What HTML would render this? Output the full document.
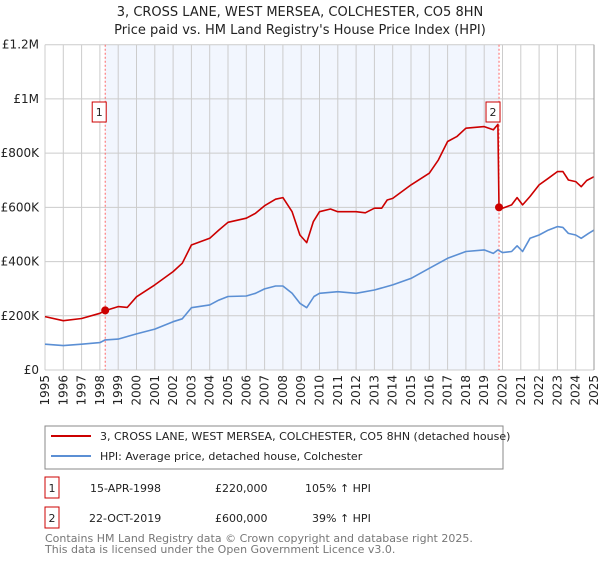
<!DOCTYPE html>
<html><head><meta charset="utf-8"><style>
body{margin:0;background:#fff;font-family:"Liberation Sans","DejaVu Sans",sans-serif;}
svg text{font-family:"DejaVu Sans","Liberation Sans",sans-serif;}
</style></head><body>
<svg id="c" width="600" height="560" viewBox="0 0 600 560">
<text x="300" y="16" text-anchor="middle" font-size="13" fill="#222">3, CROSS LANE, WEST MERSEA, COLCHESTER, CO5 8HN</text>
<text x="300" y="34" text-anchor="middle" font-size="13" fill="#222">Price paid vs. HM Land Registry's House Price Index (HPI)</text>
<g id="plot"></g>
<rect x="45" y="426" width="458" height="43" fill="#fff" stroke="#888"/>
<line x1="51" y1="436" x2="91" y2="436" stroke="#cc0000" stroke-width="2"/>
<text x="100" y="440" font-size="11" fill="#222">3, CROSS LANE, WEST MERSEA, COLCHESTER, CO5 8HN (detached house)</text>
<line x1="51" y1="456" x2="91" y2="456" stroke="#5b8fd4" stroke-width="2"/>
<text x="100" y="460" font-size="11" fill="#222">HPI: Average price, detached house, Colchester</text>
<rect x="45" y="477" width="14" height="21" fill="#fff" stroke="#cc0000"/>
<text x="52" y="492" font-size="11" text-anchor="middle" fill="#222">1</text>
<text x="90" y="492" font-size="11" fill="#222">15-APR-1998</text>
<text x="215" y="492" font-size="11" fill="#222">£220,000</text>
<text x="305" y="492" font-size="11" fill="#222">105% ↑ HPI</text>
<rect x="45" y="507" width="14" height="21" fill="#fff" stroke="#cc0000"/>
<text x="52" y="522" font-size="11" text-anchor="middle" fill="#222">2</text>
<text x="89" y="522" font-size="11" fill="#222">22-OCT-2019</text>
<text x="215" y="522" font-size="11" fill="#222">£600,000</text>
<text x="312" y="522" font-size="11" fill="#222">39% ↑ HPI</text>
<text x="45" y="542" font-size="11" fill="#777">Contains HM Land Registry data © Crown copyright and database right 2025.</text>
<text x="45" y="553" font-size="11" fill="#777">This data is licensed under the Open Government Licence v3.0.</text>
</svg>
<script>
const yTicks=[0,200,400,600,800,1000,1200];
const yTickLabels=["£0","£200K","£400K","£600K","£800K","£1M","£1.2M"];
const years=[1995,1996,1997,1998,1999,2000,2001,2002,2003,2004,2005,2006,2007,2008,2009,2010,2011,2012,2013,2014,2015,2016,2017,2018,2019,2020,2021,2022,2023,2024,2025];
const priceT=[1995,1996,1997,1998,1998.29,1999,1999.5,2000,2001,2002,2002.5,2003,2004,2004.5,2005,2006,2006.5,2007,2007.6,2008,2008.5,2008.93,2009.3,2009.66,2010,2010.6,2011,2012,2012.5,2013,2013.4,2013.7,2014,2015,2016,2016.5,2017,2017.5,2018,2019,2019.5,2019.75,2019.81,2020,2020.5,2020.8,2021.1,2021.5,2022,2022.5,2023,2023.3,2023.6,2024,2024.3,2024.6,2025];
const priceV=[197,182,190,209,219,234,231,270,314,363,394,461,486,516,545,560,578,606,630,636,584,498,470,547,584,594,584,584,580,597,597,627,633,683,726,775,843,861,892,898,886,906,600,597,609,636,609,640,683,707,732,732,701,695,676,699,713];
const hpiT=[1995,1996,1997,1998,1998.29,1999,2000,2001,2002,2002.5,2003,2004,2004.5,2005,2006,2006.5,2007,2007.6,2008,2008.5,2008.93,2009.3,2009.7,2010,2011,2012,2013,2014,2015,2016,2017,2018,2019,2019.5,2019.75,2020,2020.5,2020.8,2021.1,2021.5,2022,2022.5,2023,2023.3,2023.6,2024,2024.3,2024.7,2025];
const hpiV=[95,90,95,101,111,114,133,151,178,189,230,240,258,271,273,283,299,310,310,283,246,230,271,283,289,283,295,314,338,375,412,437,443,430,443,433,437,458,437,486,498,516,529,526,504,498,486,504,516];
const saleT=[1998.29,2019.81];
const saleV=[220,600];
const saleLabels=["1","2"];

const X0=45,X1=594,Y0=370,Y1=44.7;
const xS=t=>X0+(t-1995)/30*(X1-X0);
const yS=v=>Y0-v/1200*(Y0-Y1);
const NS="http://www.w3.org/2000/svg";
const g=document.getElementById('plot');
function mk(tag,attrs,parent){const e=document.createElementNS(NS,tag);for(const k in attrs)e.setAttribute(k,attrs[k]);(parent||g).appendChild(e);return e;}

const shade=mk('rect',{x:xS(saleT[0]),y:Y1,width:xS(saleT[1])-xS(saleT[0]),height:Y0-Y1,fill:'#eef3fd',opacity:0.75});



years.forEach(y=>{
  const l=mk('line',{x1:xS(y),x2:xS(y),y1:Y1,y2:Y0,stroke:'#cccccc','stroke-width':1});
  
  
  const t=mk('text',{x:0,y:0,'font-size':12,fill:'#222','text-anchor':'end',transform:`translate(${xS(y)+4},${Y0+5}) rotate(-90)`});
  t.textContent=y;
  
  
});
yTicks.forEach((v,i)=>{
  const l=mk('line',{x1:X0,x2:X1,y1:yS(v),y2:yS(v),stroke:'#cccccc','stroke-width':1});
  
  
  const t=mk('text',{x:X0-6,y:yS(v)+4,'font-size':12,fill:'#222','text-anchor':'end'});
  t.textContent=yTickLabels[i];
  
  
});
saleT.forEach((t,i)=>{
  const l=mk('line',{x1:xS(t),x2:xS(t),y1:Y1,y2:Y0,stroke:'#ff6666','stroke-width':1,'stroke-dasharray':'2,2'});
  
  
});
function path(T,V,color,name){
  const d=T.map((t,i)=>(i?'L':'M')+xS(t).toFixed(1)+','+yS(V[i]).toFixed(1)).join('');
  const p=mk('path',{d:d,fill:'none',stroke:color,'stroke-width':1.6,'stroke-linejoin':'round'});
  
  
}
path(hpiT,hpiV,'#5b8fd4','hpi-line');
path(priceT,priceV,'#cc0000','price-line');
saleT.forEach((t,i)=>{
  const c=mk('circle',{cx:xS(t),cy:yS(saleV[i]),r:4,fill:'#cc0000'});
  
  
  const bx=xS(t)-11;
  const r=mk('rect',{x:bx-2,y:102,width:14,height:20,fill:'#fff',stroke:'#cc0000'});
  
  
  const tx=mk('text',{x:bx+5,y:116,'font-size':11,'text-anchor':'middle',fill:'#222'});
  tx.textContent=saleLabels[i];
  
  
});
const ax=mk('line',{x1:X1,x2:X1,y1:Y1,y2:Y0,stroke:'#999','stroke-width':1});


</script>
</body></html>
